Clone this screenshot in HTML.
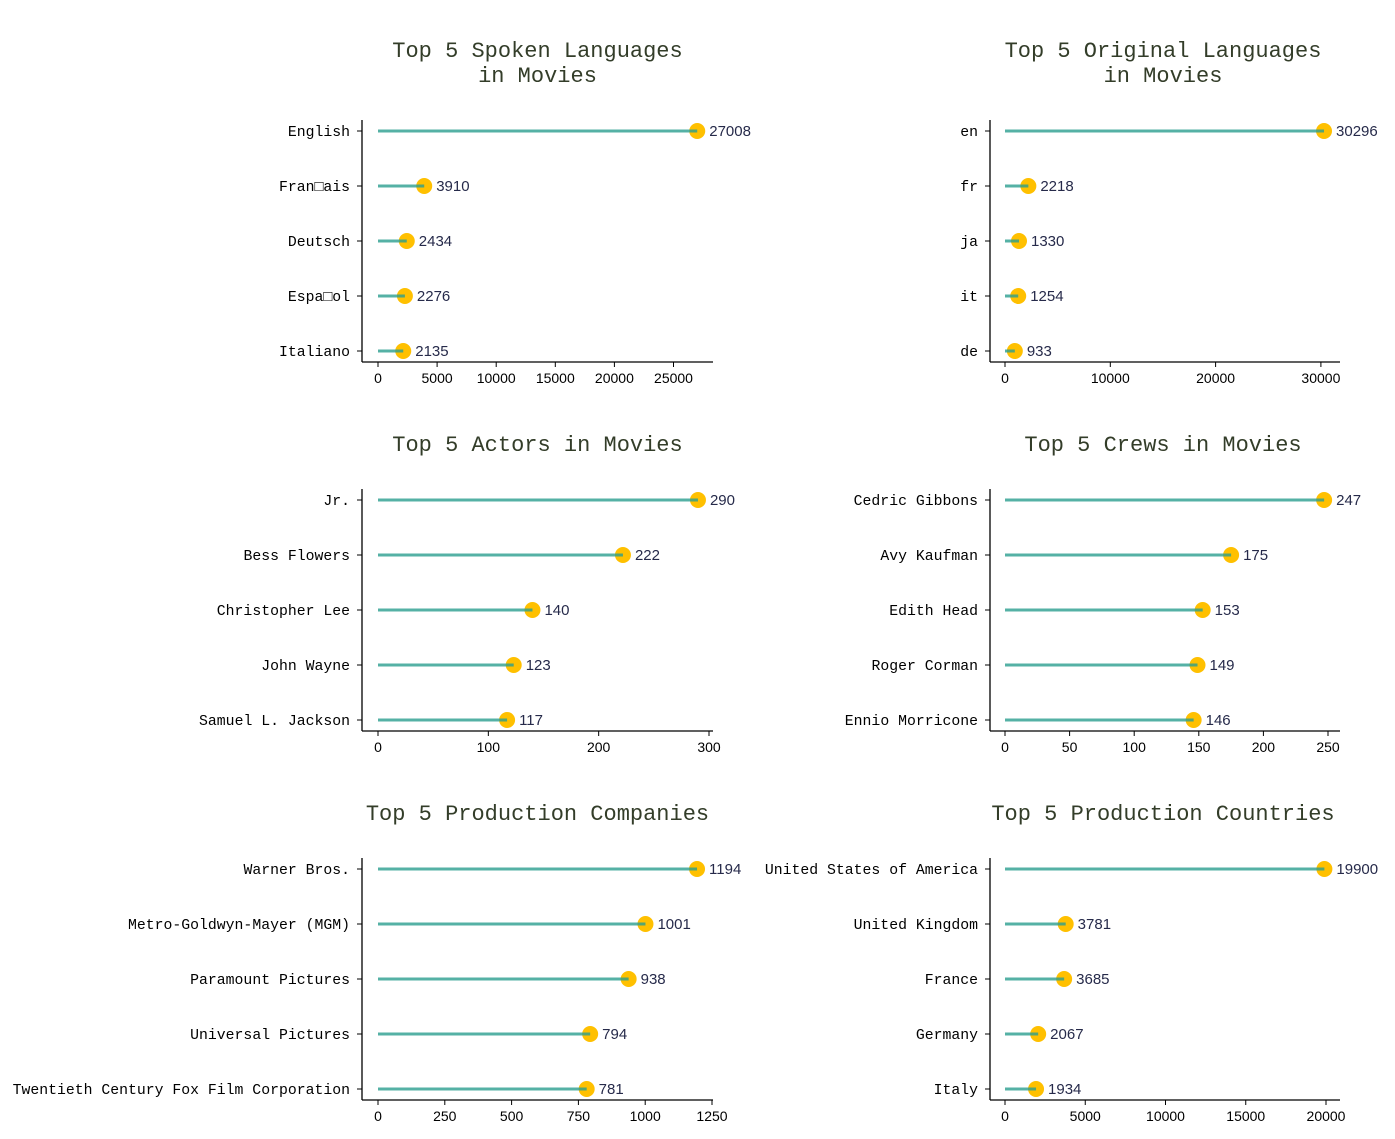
<!DOCTYPE html>
<html><head><meta charset="utf-8"><style>
body{margin:0;background:#fff}
svg{display:block}
.title{font-family:"Liberation Mono","WenQuanYi Zen Hei",monospace;font-size:22px;fill:#333d29}
.ylab{font-family:"Liberation Mono","WenQuanYi Zen Hei",monospace;font-size:14.8px;fill:#000}
.xt{font-family:"Liberation Sans",sans-serif;font-size:14px;fill:#000}
.val{font-family:"Liberation Sans",sans-serif;font-size:15px;fill:#262a4a}
</style></head><body>
<svg id="chart" width="1395" height="1139" xmlns="http://www.w3.org/2000/svg"></svg>
<script>
const titles = [["Top 5 Spoken Languages","in Movies"],["Top 5 Original Languages","in Movies"],["Top 5 Actors in Movies"],["Top 5 Crews in Movies"],["Top 5 Production Companies"],["Top 5 Production Countries"]];
const cats1 = ["English","Fran\u25A1ais","Deutsch","Espa\u25A1ol","Italiano"];
const vals1 = [27008,3910,2434,2276,2135];
const ticks1 = [0,5000,10000,15000,20000,25000];
const cats2 = ["en","fr","ja","it","de"];
const vals2 = [30296,2218,1330,1254,933];
const ticks2 = [0,10000,20000,30000];
const cats3 = ["Jr.","Bess Flowers","Christopher Lee","John Wayne","Samuel L. Jackson"];
const vals3 = [290,222,140,123,117];
const ticks3 = [0,100,200,300];
const cats4 = ["Cedric Gibbons","Avy Kaufman","Edith Head","Roger Corman","Ennio Morricone"];
const vals4 = [247,175,153,149,146];
const ticks4 = [0,50,100,150,200,250];
const cats5 = ["Warner Bros.","Metro-Goldwyn-Mayer (MGM)","Paramount Pictures","Universal Pictures","Twentieth Century Fox Film Corporation"];
const vals5 = [1194,1001,938,794,781];
const ticks5 = [0,250,500,750,1000,1250];
const cats6 = ["United States of America","United Kingdom","France","Germany","Italy"];
const vals6 = [19900,3781,3685,2067,1934];
const ticks6 = [0,5000,10000,15000,20000];

const panels = [
 {cats:cats1,vals:vals1,ticks:ticks1,x0:378,k:0.01182,L:362,R:713,T:120,B:362,r0:131,ty:[57,82]},
 {cats:cats2,vals:vals2,ticks:ticks2,x0:1005,k:0.01053,L:990,R:1340,T:120,B:362,r0:131,ty:[57,82]},
 {cats:cats3,vals:vals3,ticks:ticks3,x0:378,k:331/300,L:362,R:713,T:489,B:731,r0:500,ty:[451]},
 {cats:cats4,vals:vals4,ticks:ticks4,x0:1005,k:323/250,L:990,R:1340,T:489,B:731,r0:500,ty:[451]},
 {cats:cats5,vals:vals5,ticks:ticks5,x0:378,k:0.2672,L:362,R:713,T:858,B:1100,r0:869,ty:[820]},
 {cats:cats6,vals:vals6,ticks:ticks6,x0:1005,k:0.01605,L:990,R:1340,T:858,B:1100,r0:869,ty:[820]}
];
const NS="http://www.w3.org/2000/svg";
const svg=document.getElementById('chart');
function mk(tag,attrs,parent,text){const e=document.createElementNS(NS,tag);for(const a in attrs)e.setAttribute(a,attrs[a]);if(text!==undefined)e.textContent=text;parent.appendChild(e);return e;}
panels.forEach((p,pi)=>{
  const g=mk('g',{},svg);
  
  
  const xs=v=>p.x0+v*p.k;
  const ys=i=>p.r0+i*55;
  const cx=(p.L+p.R)/2+(pi%2===0?0:-2);
  p.ty.forEach((y,li)=>{
    const t=mk('text',{x:cx,y:y,'text-anchor':'middle',class:'title'},g,titles[pi][li]);
    
    
  });
  const ya=mk('line',{x1:p.L,y1:p.T,x2:p.L,y2:p.B,stroke:'#000','stroke-width':1.3},g);
  
  
  const xa=mk('line',{x1:p.L,y1:p.B,x2:p.R,y2:p.B,stroke:'#000','stroke-width':1.3},g);
  
  
  p.ticks.forEach(t=>{
    const x=xs(t);
    mk('line',{x1:x,y1:p.B,x2:x,y2:p.B+5,stroke:'#000','stroke-width':1},g);
    const tl=mk('text',{x:x,y:p.B+21,'text-anchor':'middle',class:'xt'},g,String(t));
    
    
  });
  p.cats.forEach((c,i)=>{
    const y=ys(i);
    mk('line',{x1:p.L-5,y1:y,x2:p.L,y2:y,stroke:'#000','stroke-width':1},g);
    const yl=mk('text',{x:p.L-12,y:y+5,'text-anchor':'end',class:'ylab'},g,c);
    
    
    const v=p.vals[i];
    const dot=mk('circle',{cx:xs(v),cy:y,r:8,fill:'#ffc000'},g);
    
    
    const ln=mk('line',{x1:xs(0),y1:y,x2:xs(v),y2:y,stroke:'#2a9d8f','stroke-width':3,'stroke-opacity':0.8},g);
    
    
    const vl=mk('text',{x:xs(v)+12,y:y+5,class:'val'},g,String(v));
    
    
  });
});
</script>
</body></html>
